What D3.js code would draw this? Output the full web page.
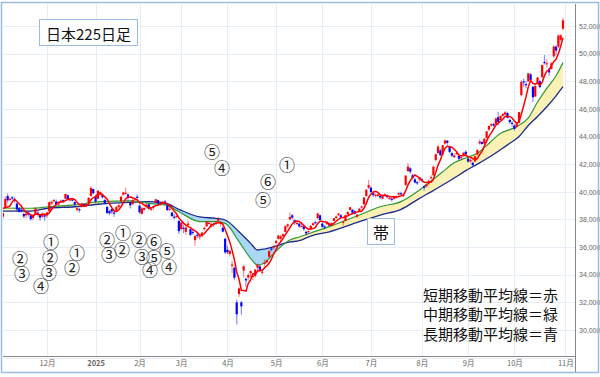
<!DOCTYPE html>
<html><head><meta charset="utf-8">
<script src="https://cdn.jsdelivr.net/npm/d3@7"></script>
<style>
body{margin:0;background:#fff;}
svg{display:block;font-family:"Noto Sans CJK JP","Noto Sans",sans-serif;}
</style></head><body>
<svg id="c" width="600" height="377"></svg>
<script>
// ---- Daily candles, one small array per month: [day, open, high, low, close]
const nov24 = [[5,38200,38500,38050,38474],[6,38900,39660,38800,39481],[7,39700,39880,39200,39381],[8,39420,39600,39300,39500],[11,39600,39700,39400,39533],[12,39450,39600,39200,39376],[13,39150,39200,38600,38722],[14,38800,38900,38500,38536],[15,38700,38900,38500,38643],[18,38400,38500,38100,38221],[19,38300,38500,38100,38414],[20,38500,38600,38200,38352],[21,38300,38400,37900,38026],[22,38100,38400,37950,38284],[25,38400,38900,38350,38780],[26,38500,38600,38200,38442],[27,38350,38400,37900,38135],[28,38200,38500,38100,38349],[29,38300,38400,37900,38208]];
const dec24 = [[2,38300,38550,38100,38513],[3,38600,39300,38550,39249],[4,39150,39350,39050,39276],[5,39350,39500,39250,39396],[6,39300,39450,39000,39091],[9,39100,39300,38950,39161],[10,39300,39450,39200,39368],[11,39400,39450,39200,39372],[12,39500,39850,39450,39849],[13,39750,39800,39400,39470],[16,39450,39550,39300,39457],[17,39450,39500,39300,39365],[18,39250,39300,39000,39082],[19,38700,38900,38600,38814],[20,38750,38850,38500,38702],[23,38900,39200,38850,39161],[24,39100,39150,38950,39037],[25,39000,39200,38950,39130],[26,39200,39600,39150,39568],[27,39700,40400,39650,40281],[30,40200,40250,39800,39895]];
const jan25 = [[6,39700,39800,39200,39307],[7,39500,40100,39450,40083],[8,39800,40050,39700,39981],[9,39800,39900,39500,39605],[10,39400,39500,39100,39190],[14,38900,39000,38400,38474],[15,38600,38700,38300,38445],[16,38750,38800,38400,38573],[17,38500,38650,38200,38451],[20,38650,39000,38600,38903],[21,38900,39100,38800,39028],[22,39300,39700,39250,39646],[23,39800,40000,39700,39959],[24,39900,40300,39800,39932],[27,39800,39900,39300,39566],[28,39200,39300,38800,39017],[29,39100,39450,39050,39415],[30,39450,39600,39350,39514],[31,39650,39800,39450,39572]];
const feb25 = [[3,39000,39100,38400,38520],[4,38400,38900,38350,38798],[5,38700,38900,38600,38831],[6,38900,39200,38850,39067],[7,39100,39100,38700,38787],[10,38700,38900,38600,38801],[12,38900,39000,38700,38964],[13,39200,39500,39150,39461],[14,39400,39450,39100,39149],[17,39150,39300,39000,39174],[18,39200,39350,39100,39270],[19,39300,39400,39050,39165],[20,39000,39050,38600,38678],[21,38700,38900,38600,38777],[25,38500,38550,38200,38238],[26,38200,38400,38000,38142],[27,38200,38400,38100,38256],[28,37900,37950,36950,37156]];
const mar25 = [[3,37300,37800,37200,37785],[4,37400,37600,37000,37331],[5,37100,37500,36900,37418],[6,37600,37900,37500,37705],[7,37300,37400,36800,36887],[10,37100,37300,36900,37028],[11,36500,36900,36100,36793],[12,36900,37050,36650,36819],[13,36750,36900,36550,36790],[14,36800,37100,36700,37053],[17,37300,37500,37200,37397],[18,37500,37900,37450,37845],[19,37700,37900,37650,37752],[21,37500,37800,37400,37677],[24,37700,37750,37450,37608],[25,37700,37900,37600,37781],[26,37900,38200,37850,38027],[27,37700,37900,37500,37800],[28,37400,37500,37050,37120],[31,36600,36700,35500,35618]];
const apr25 = [[1,35800,36100,35500,35624],[2,35500,35800,35300,35726],[3,34700,35000,34100,34736],[4,34500,34600,33600,33781],[7,32000,32200,30400,31137],[8,32600,33100,32400,33013],[9,32000,32100,31100,31714],[10,34300,34700,33800,34609],[11,33700,33800,33100,33586],[14,33800,34100,33600,33982],[15,34100,34300,33800,34268],[16,33900,34000,33600,33920],[17,33900,34400,33800,34378],[18,34500,34800,34300,34730],[21,34600,34700,34200,34280],[22,34200,34400,34000,34221],[23,34800,35100,34600,34869],[24,34900,35100,34800,35039],[25,35300,35800,35200,35706],[28,35900,36000,35700,35840],[30,36000,36200,35800,36045]];
const may25 = [[1,36300,36500,36200,36452],[2,36600,36900,36500,36831],[7,36600,36900,36400,36780],[8,36800,37000,36700,36929],[9,37100,37600,37050,37503],[12,37500,37700,37400,37644],[13,38000,38500,37950,38183],[14,38300,38400,38000,38128],[15,37950,38000,37600,37756],[16,37700,37850,37600,37754],[19,37700,37750,37400,37499],[20,37500,37700,37450,37529],[21,37500,37600,37200,37299],[22,37100,37200,36850,36986],[23,37100,37200,36950,37160],[26,37300,37600,37250,37532],[27,37600,37800,37500,37724],[28,37800,37900,37700,37722],[29,38100,38500,38000,38433],[30,38300,38350,37900,37965]];
const jun25 = [[2,37700,37800,37400,37471],[3,37500,37600,37300,37447],[4,37700,37800,37600,37747],[5,37700,37800,37500,37554],[6,37600,37800,37550,37742],[9,37900,38100,37850,38089],[10,38100,38300,38050,38212],[11,38300,38500,38250,38421],[12,38300,38400,38100,38173],[13,37800,37900,37550,37834],[16,37900,38350,37850,38311],[17,38350,38600,38300,38537],[18,38700,38900,38600,38885],[19,38700,38750,38400,38488],[20,38600,38700,38350,38403],[23,38200,38400,38100,38354],[24,38600,38800,38550,38791],[25,38900,39000,38800,38942],[26,39100,39600,39050,39585],[27,39700,40200,39650,40151],[30,40300,40850,40200,40487]];
const jul25 = [[1,40300,40400,39900,39986],[2,39900,40000,39600,39762],[3,39700,39900,39600,39786],[4,39700,39900,39650,39811],[7,39700,39750,39500,39588],[8,39500,39750,39450,39689],[9,39800,39900,39700,39821],[10,39700,39800,39550,39646],[11,39500,39700,39400,39570],[14,39500,39600,39300,39460],[15,39500,39700,39400,39678],[16,39600,39750,39500,39663],[17,39800,40000,39700,39901],[18,39900,40000,39700,39819],[22,39700,39900,39600,39775],[23,40500,41200,40400,41171],[24,41500,42100,41400,41826],[25,41700,41800,41300,41456],[28,41200,41300,40900,40998],[29,40900,41000,40600,40675],[30,40700,40800,40500,40655],[31,40900,41100,40700,41070]];
const aug25 = [[1,40900,41000,40700,40800],[4,40400,40500,40100,40291],[5,40400,40600,40300,40550],[6,40600,40900,40500,40795],[7,41000,41200,40900,41059],[8,41200,41900,41150,41820],[12,42300,42800,42200,42718],[13,42800,43400,42750,43275],[14,43000,43100,42600,42649],[15,42700,43400,42650,43378],[18,43500,43800,43400,43714],[19,43700,43750,43400,43546],[20,43300,43350,42800,42889],[21,42800,42900,42500,42610],[22,42500,42800,42450,42633],[25,42800,42950,42700,42808],[26,42600,42700,42300,42394],[27,42500,42600,42300,42520],[28,42600,42900,42550,42829],[29,42900,43000,42600,42718]];
const sep25 = [[1,42400,42500,42100,42189],[2,42200,42400,42100,42310],[3,42100,42200,41800,41939],[4,42200,42600,42150,42580],[5,42700,43100,42600,43019],[8,43500,43800,43400,43644],[9,43600,43700,43400,43459],[10,43500,43900,43450,43838],[11,43900,44400,43850,44373],[12,44500,44800,44400,44768],[16,44800,45000,44700,44902],[17,44900,45000,44700,44790],[18,44900,45400,44850,45303],[19,45400,45800,44800,45046],[22,45200,45550,45150,45494],[24,45500,45700,45400,45630],[25,45600,45850,45500,45755],[26,45700,45800,45300,45355],[29,45200,45300,44900,45044],[30,45000,45100,44700,44933]];
const oct25 = [[1,44800,44900,44400,44551],[2,44700,45000,44600,44937],[3,45000,45800,44950,45770],[6,47000,48100,46900,47945],[7,48000,48200,47600,47951],[8,47800,48000,47500,47735],[9,48000,48600,47950,48580],[10,48500,48600,48000,48089],[14,47600,47650,46500,46847],[15,46900,47700,46850,47673],[16,47900,48300,47800,48278],[17,48000,48100,47500,47582],[20,48300,49200,48200,49186],[21,49400,49900,49200,49316],[22,49300,49600,49000,49308],[23,48900,49000,48400,48642],[24,48900,49400,48850,49300],[27,49800,50600,49700,50512],[28,50500,50600,49900,50219],[29,50500,51400,50400,51308],[30,51000,51400,50900,51326],[31,51800,52600,51700,52411]];
// closes of the four sessions before the window (for the 5-day average)
const priorCloses = [39027, 39277, 39081, 38053];

// ---- Medium (green) and long (blue) moving averages
const maDates = ["2024-11-05","2024-11-21","2024-12-03","2024-12-18","2025-01-08","2025-01-28","2025-02-07","2025-02-19","2025-02-28","2025-03-13","2025-03-25","2025-03-31","2025-04-08","2025-04-15","2025-04-18","2025-04-23","2025-04-30","2025-05-13","2025-05-19","2025-05-26","2025-06-05","2025-06-24","2025-07-07","2025-07-18","2025-07-31","2025-08-07","2025-08-15","2025-08-22","2025-08-29","2025-09-05","2025-09-12","2025-09-22","2025-09-29","2025-10-03","2025-10-09","2025-10-16","2025-10-22","2025-10-28","2025-10-31"];
const maMid  = [38830,38810,38920,39050,39285,39340,39170,39050,38560,37850,37840,37720,36390,35190,34700,34850,35550,36510,36730,37020,37480,38320,38920,39290,40130,40780,41450,42100,42450,42790,43500,44240,44500,44820,45350,46500,47480,48400,49350];
const maLong = [38610,38610,38830,38920,39120,39240,39285,39190,38735,38180,38080,37960,37110,36270,35790,35860,36030,36370,36460,36800,37110,37840,38320,38735,39530,40000,40490,41000,41530,42000,42500,43050,43510,44000,44800,45450,46160,46950,47610];

// ---- Axis ticks
const monthTickDates = ["2024-12-02","2025-01-06","2025-02-03","2025-03-03","2025-04-01","2025-05-01","2025-06-02","2025-07-01","2025-08-01","2025-09-01","2025-10-01","2025-11-04"];
const monthLabels = ["12月","2025","2月","3月","4月","5月","6月","7月","8月","9月","10月","11月"];
const priceTicks = [30000,32000,34000,36000,38000,40000,42000,44000,46000,48000,50000,52000];

// ---- Texts
const titleText = "日本225日足";
const bandText = "帯";
const legendLines = ["短期移動平均線＝赤","中期移動平均線＝緑","長期移動平均線＝青"];
const marks = [
  ["②",20,258],["③",22,273],["④",41,285],
  ["①",51,241],["②",50,257],["③",49,272],
  ["①",77,252],["②",72,267],
  ["②",107,239],["①",123,232],["③",109,254],["②",122,249],
  ["②",139,239],["⑥",154,241],["⑤",167,250],["③",142,256],["⑤",154,257],["④",150,269],["④",169,266],
  ["⑤",212,151],["④",222,167],["①",287,164],["⑥",268,181],["⑤",263,199]
];

// ---- Build
const months = [["2024-11",nov24],["2024-12",dec24],["2025-01",jan25],["2025-02",feb25],["2025-03",mar25],["2025-04",apr25],["2025-05",may25],["2025-06",jun25],["2025-07",jul25],["2025-08",aug25],["2025-09",sep25],["2025-10",oct25]];
const candles = [];
months.forEach(([ym, rows]) => rows.forEach(r => candles.push({date: ym + "-" + String(r[0]).padStart(2,"0"), o:r[1], h:r[2], l:r[3], c:r[4]})));
const n = candles.length;
const idxOf = new Map(candles.map((d,i)=>[d.date,i]));
const allCloses = priorCloses.concat(candles.map(d=>d.c));
const shortMA = candles.map((d,i)=>({i, v: d3.mean(allCloses.slice(i, i+5))}));
const band = maDates.map((d,k)=>({i: idxOf.get(d), mid: maMid[k], long: maLong[k]}));

const P = {l:3, r:575, t:4, b:356};
const x = d3.scaleLinear().domain([0, n-1]).range([3, 563]);
const y = d3.scaleLinear().domain([30000, 52000]).range([330, 26]);

const svg = d3.select("#c");
svg.append("rect").attr("width",600).attr("height",377).attr("fill","#fff");
const defs = svg.append("defs");
defs.append("clipPath").attr("id","plotClip").append("rect").attr("x",P.l).attr("y",P.t).attr("width",P.r-P.l).attr("height",P.b-P.t);

// grid
const tickIdx = monthTickDates.map(d => idxOf.has(d) ? idxOf.get(d) : n);
const grid = svg.append("g");
grid.selectAll("line.h").data(priceTicks.concat([28000])).join("line")
  .attr("x1",P.l).attr("x2",P.r).attr("y1",d=>Math.round(y(d))+0.5).attr("y2",d=>Math.round(y(d))+0.5)
  .attr("stroke","#e6edf5").attr("stroke-width",1);
grid.selectAll("line.v").data(tickIdx).join("line")
  .attr("x1",d=>Math.round(x(d))+0.5).attr("x2",d=>Math.round(x(d))+0.5).attr("y1",P.t).attr("y2",P.b)
  .attr("stroke","#e6edf5").attr("stroke-width",1);

const g = svg.append("g").attr("clip-path","url(#plotClip)");
const curve = d3.curveMonotoneX;
defs.append("clipPath").attr("id","belowMid").append("path")
  .attr("d", d3.area().x(d=>x(d.i)).y0(P.b+40).y1(d=>y(d.mid)).curve(curve)(band));
defs.append("clipPath").attr("id","belowLong").append("path")
  .attr("d", d3.area().x(d=>x(d.i)).y0(P.b+40).y1(d=>y(d.long)).curve(curve)(band));
g.append("path").attr("clip-path","url(#belowMid)")
  .attr("d", d3.area().x(d=>x(d.i)).y0(P.t-40).y1(d=>y(d.long)).curve(curve)(band))
  .attr("fill","#fbf1b4");
g.append("path").attr("clip-path","url(#belowLong)")
  .attr("d", d3.area().x(d=>x(d.i)).y0(P.t-40).y1(d=>y(d.mid)).curve(curve)(band))
  .attr("fill","#aad8f4");
g.append("path").attr("d", d3.line().x(d=>x(d.i)).y(d=>y(d.long)).curve(curve)(band))
  .attr("fill","none").attr("stroke","#1b2a8c").attr("stroke-width",1.3);
g.append("path").attr("d", d3.line().x(d=>x(d.i)).y(d=>y(d.mid)).curve(curve)(band))
  .attr("fill","none").attr("stroke","#2f9a35").attr("stroke-width",1.2);

// candles
const col = d => d.c >= d.o ? "#ff0000" : "#0000ff";
g.selectAll("line.w").data(candles).join("line")
  .attr("x1",(d,i)=>x(i)).attr("x2",(d,i)=>x(i)).attr("y1",d=>y(d.h)).attr("y2",d=>y(d.l))
  .attr("stroke",col).attr("stroke-opacity",0.45).attr("stroke-width",1.2);
g.selectAll("rect.b").data(candles).join("rect")
  .attr("x",(d,i)=>x(i)-1.1).attr("width",2.2)
  .attr("y",d=>y(Math.max(d.o,d.c))).attr("height",d=>Math.max(1.2, Math.abs(y(d.o)-y(d.c))))
  .attr("fill",col);
g.append("path").attr("d", d3.line().x(d=>x(d.i)).y(d=>y(d.v))(shortMA))
  .attr("fill","none").attr("stroke","#ff0000").attr("stroke-width",1.5);

// axes
const yAxis = d3.axisRight(y).tickValues(priceTicks).tickFormat(d3.format(",")).tickSize(0).tickPadding(4);
svg.append("g").attr("transform",`translate(${P.r},0)`).call(yAxis)
  .call(s=>s.select(".domain").remove())
  .call(s=>s.selectAll("text").attr("font-size",7).attr("fill","#666").attr("font-family","Liberation Sans, Arial, sans-serif"));
const xAxis = d3.axisBottom(x).tickValues(tickIdx).tickFormat((d,k)=>monthLabels[k]).tickSize(0).tickPadding(5);
svg.append("g").attr("transform",`translate(0,${P.b})`).call(xAxis)
  .call(s=>s.select(".domain").remove())
  .call(s=>s.selectAll("text").attr("font-size",7.5).attr("fill","#666").attr("font-family","Noto Sans CJK JP, sans-serif")
     .attr("font-weight",(d,k)=>monthLabels[k]==="2025"?"bold":"normal"));
svg.append("line").attr("x1",P.l).attr("x2",P.r).attr("y1",P.b+0.5).attr("y2",P.b+0.5).attr("stroke","#888");
svg.append("line").attr("x1",P.r+0.5).attr("x2",P.r+0.5).attr("y1",P.t).attr("y2",372).attr("stroke","#888");
svg.append("rect").attr("x",1.5).attr("y",2.5).attr("width",597).attr("height",370).attr("fill","none").attr("stroke","#9bbbe0").attr("stroke-width",1.5);

// annotations
svg.append("rect").attr("x",39.5).attr("y",19.5).attr("width",98).attr("height",26).attr("fill","#fff").attr("stroke","#9bbbe0");
svg.append("text").attr("x",88.5).attr("y",33).attr("text-anchor","middle").attr("dominant-baseline","central")
  .attr("font-size",15).attr("fill","#111").text(titleText);
svg.append("rect").attr("x",367.5).attr("y",218.5).attr("width",27).attr("height",26).attr("fill","#fff").attr("stroke","#9bbbe0");
svg.append("text").attr("x",381).attr("y",231.5).attr("text-anchor","middle").attr("dominant-baseline","central")
  .attr("font-size",16).attr("fill","#111").text(bandText);
svg.append("g").selectAll("text").data(legendLines).join("text")
  .attr("x",423).attr("y",(d,k)=>294+k*19.5).attr("dominant-baseline","central")
  .attr("font-size",15).attr("fill","#111").text(d=>d);
svg.append("g").selectAll("text").data(marks).join("text")
  .attr("x",d=>d[1]).attr("y",d=>d[2]).attr("text-anchor","middle").attr("dominant-baseline","central")
  .attr("font-size",16).attr("fill","#222").text(d=>d[0]);
</script>
</body></html>
